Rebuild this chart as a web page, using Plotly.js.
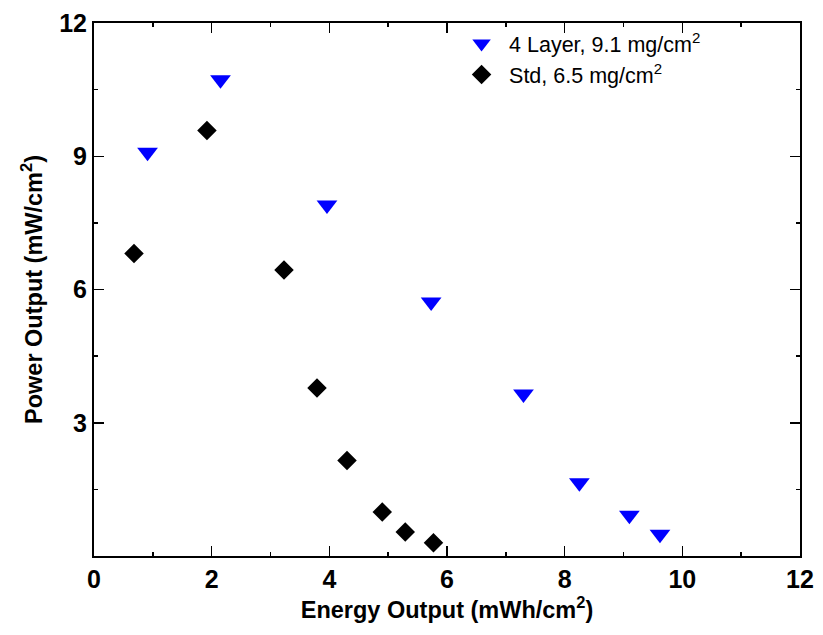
<!DOCTYPE html>
<html>
<head>
<meta charset="utf-8">
<script src="https://cdn.plot.ly/plotly-3.0.1.min.js"></script>
<style>html,body{margin:0;padding:0;background:#fff;}#chart{width:823px;height:635px;}</style>
</head>
<body>
<div id="chart"></div>
<script>
const layerName = "4 Layer, 9.1 mg/cm<sup>2</sup>";
const layerX = [0.91, 2.15, 3.96, 5.73, 7.30, 8.25, 9.10, 9.62];
const layerY = [9.09, 10.72, 7.90, 5.72, 3.65, 1.65, 0.92, 0.49];

const stdName = "Std, 6.5 mg/cm<sup>2</sup>";
const stdX = [0.68, 1.92, 3.23, 3.79, 4.30, 4.90, 5.29, 5.77];
const stdY = [6.81, 9.58, 6.44, 3.78, 2.15, 0.99, 0.54, 0.30];

const xTickVals = [0, 2, 4, 6, 8, 10, 12];
const xTickLabels = ["0", "2", "4", "6", "8", "10", "12"];
const yTickVals = [3, 6, 9, 12];
const yTickLabels = ["3", "6", "9", "12"];

const xTitle = "Energy Output (mWh/cm<sup>2</sup>)";
const yTitle = "Power Output (mW/cm<sup>2</sup>)";

const fontFam = '"Liberation Sans", Arial, sans-serif';
const bold = s => '<b>' + s + '</b>';

const traces = [
  {x: layerX, y: layerY, name: layerName, type: 'scatter', mode: 'markers',
   marker: {symbol: 'triangle-down', size: 18, color: '#0000ff'}},
  {x: stdX, y: stdY, name: stdName, type: 'scatter', mode: 'markers',
   marker: {symbol: 'diamond', size: 15, color: '#000000'}}
];

const axisCommon = {
  showgrid: false, zeroline: false, showline: true, linecolor: '#000', linewidth: 2,
  mirror: 'ticks', ticks: 'inside', ticklen: 10, tickwidth: 1.5, tickcolor: '#000',
  tickfont: {family: fontFam, size: 25, color: '#000'}
};

const layout = {
  width: 823, height: 635,
  margin: {l: 94, r: 23, t: 23, b: 79},
  paper_bgcolor: '#fff', plot_bgcolor: '#fff',
  showlegend: true,
  legend: {x: 0.51, y: 1.0, xanchor: 'left', yanchor: 'top', bgcolor: 'rgba(0,0,0,0)',
           itemwidth: 45,
           font: {family: fontFam, size: 21.5, color: '#000'}, tracegroupgap: 0},
  xaxis: Object.assign({}, axisCommon, {
    range: [0, 12], tickmode: 'array',
    tickvals: xTickVals, ticktext: xTickLabels.map(bold),
    minor: {dtick: 1, tick0: 0, ticks: 'inside', ticklen: 4, tickwidth: 1.5, tickcolor: '#000'},
    title: {text: bold(xTitle), font: {family: fontFam, size: 23.5, color: '#000'}, standoff: 8}
  }),
  yaxis: Object.assign({}, axisCommon, {
    range: [0, 12], tickmode: 'array',
    tickvals: yTickVals, ticktext: yTickLabels.map(bold),
    minor: {dtick: 1.5, tick0: 0, ticks: 'inside', ticklen: 4, tickwidth: 1.5, tickcolor: '#000'},
    title: {text: bold(yTitle), font: {family: fontFam, size: 23.5, color: '#000'}, standoff: 10}
  })
};

Plotly.newPlot('chart', traces, layout, {displayModeBar: false, staticPlot: true});
</script>
</body>
</html>
